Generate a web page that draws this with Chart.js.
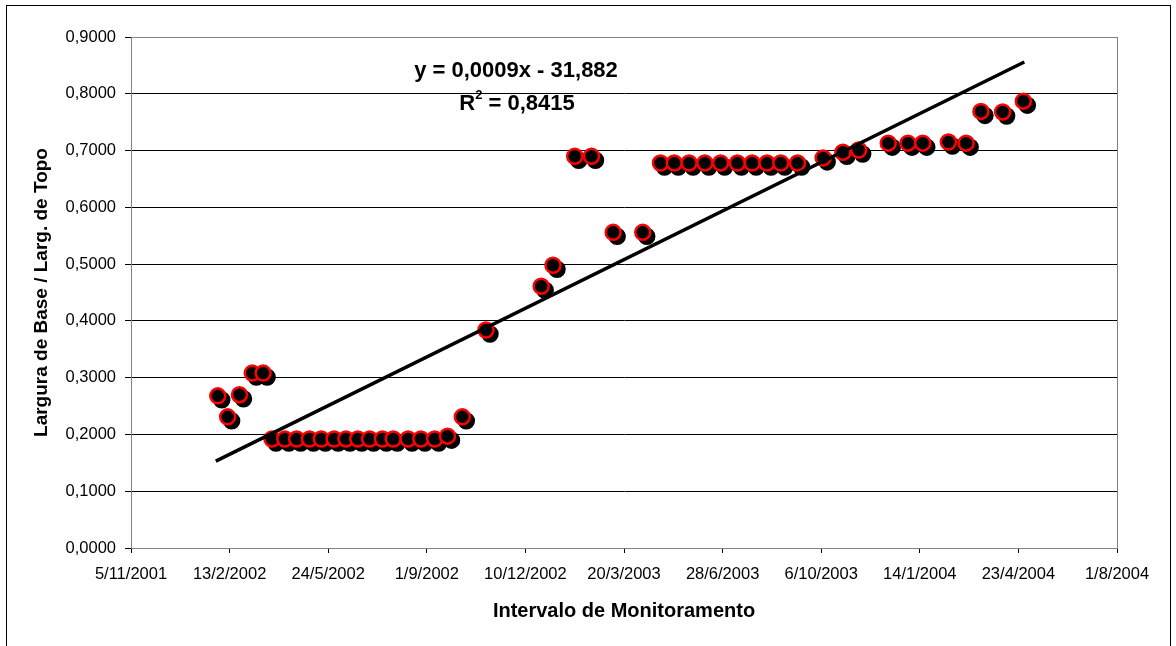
<!DOCTYPE html>
<html>
<head>
    <script src="https://cdn.jsdelivr.net/npm/chart.js@4/dist/chart.umd.min.js"></script>
    <style>
        body { margin: 0; background: #fff; }
        #wrap { width: 1176px; height: 646px; }
    </style>
</head>
<body>
<div id="wrap"><canvas id="chart" width="1176" height="646"></canvas></div>
<script>
    // dates as Excel serial numbers (days), values = base width / top width
    var dias = [37288, 37298, 37310, 37323, 37334,
        37343, 37356, 37368, 37381, 37393, 37406, 37418, 37430, 37442, 37455, 37466,
        37481, 37494, 37508, 37521, 37536, 37560, 37616, 37628, 37650, 37667, 37689, 37719,
        37737, 37751, 37766, 37782, 37798, 37815, 37830, 37845, 37859, 37876,
        37902, 37922, 37938, 37968, 37988, 38003, 38029, 38047, 38062, 38084, 38105];
    var razao = [0.268, 0.231, 0.270, 0.308, 0.308,
        0.192, 0.192, 0.192, 0.192, 0.192, 0.192, 0.192, 0.192, 0.192, 0.192, 0.192,
        0.192, 0.192, 0.192, 0.197, 0.231, 0.384, 0.461, 0.498, 0.690, 0.690, 0.556, 0.556,
        0.678, 0.678, 0.678, 0.678, 0.678, 0.678, 0.678, 0.678, 0.678, 0.678,
        0.687, 0.697, 0.701, 0.713, 0.713, 0.713, 0.715, 0.713, 0.769, 0.768, 0.787];
    // linear trend line ends (y = 0,0009x - 31,882)
    var tendX = [37286, 38106];
    var tendY = [0.153, 0.856];
    var eqTexto = 'y = 0,0009x - 31,882';
    var r2Texto = '0,8415';

    var fonte = '"Liberation Sans", Arial, sans-serif';

    function serialParaData(s) {
        var d = new Date(Math.round((s - 25569) * 86400000));
        return d.getUTCDate() + '/' + (d.getUTCMonth() + 1) + '/' + d.getUTCFullYear();
    }

    var extras = {
        id: 'extras',
        beforeDatasetDraw: function (chart, args) {
            if (args.index === 0) {
                var ctx = chart.ctx;
                ctx.save();
                ctx.shadowColor = '#000';
                ctx.shadowOffsetX = 4;
                ctx.shadowOffsetY = 4;
                ctx.shadowBlur = 0;
            }
        },
        afterDatasetDraw: function (chart, args) {
            if (args.index === 0) chart.ctx.restore();
        },
        beforeDraw: function (chart) {
            var ctx = chart.ctx;
            ctx.save();
            ctx.fillStyle = '#fff';
            ctx.fillRect(0, 0, chart.width, chart.height);
            ctx.strokeStyle = '#000';
            ctx.lineWidth = 1;
            ctx.strokeRect(6.5, 5.5, 1164, 700);
            ctx.restore();
        },
        afterDraw: function (chart) {
            var ctx = chart.ctx, a = chart.chartArea;
            ctx.save();
            ctx.strokeStyle = '#808080';
            ctx.lineWidth = 1;
            ctx.strokeRect(a.left + 0.5, a.top + 0.5, a.right - a.left, a.bottom - a.top);
            ctx.fillStyle = '#000';
            ctx.font = 'bold 22px ' + fonte;
            ctx.textAlign = 'center';
            ctx.textBaseline = 'middle';
            ctx.fillText(eqTexto, 516, 71);
            var parte1 = 'R', parte2 = ' = ' + r2Texto;
            var w1 = ctx.measureText(parte1).width, w2 = ctx.measureText(parte2).width;
            ctx.font = 'bold 13px ' + fonte;
            var ws = ctx.measureText('2').width;
            var x0 = 517 - (w1 + ws + w2) / 2;
            ctx.textAlign = 'left';
            ctx.font = 'bold 22px ' + fonte;
            ctx.fillText(parte1, x0, 104);
            ctx.font = 'bold 13px ' + fonte;
            ctx.fillText('2', x0 + w1, 95);
            ctx.font = 'bold 22px ' + fonte;
            ctx.fillText(parte2, x0 + w1 + ws, 104);
            ctx.restore();
        }
    };

    new Chart('chart', {
        type: 'scatter',
        data: {
            datasets: [{
                data: dias.map(function (d, i) { return { x: d, y: razao[i] }; }),
                backgroundColor: '#000',
                borderColor: '#ff0000',
                borderWidth: 2.5,
                pointRadius: 7.5,
                pointHoverRadius: 7.5,
                order: 1
            }, {
                type: 'line',
                data: tendX.map(function (d, i) { return { x: d, y: tendY[i] }; }),
                borderColor: '#000',
                borderWidth: 3.5,
                pointRadius: 0,
                fill: false,
                order: 0
            }]
        },
        options: {
            responsive: false,
            animation: false,
            layout: { padding: { left: 30, top: 37, right: 59, bottom: 0 } },
            plugins: { legend: { display: false }, tooltip: { enabled: false } },
            scales: {
                x: {
                    type: 'linear',
                    min: 37200,
                    max: 38200,
                    afterFit: function (s) { s.height = 98; },
                    ticks: {
                        stepSize: 100,
                        color: '#000',
                        font: { family: fonte, size: 16.5 },
                        maxRotation: 0,
                        padding: 12,
                        callback: function (v) { return serialParaData(v); }
                    },
                    grid: { drawOnChartArea: false, drawTicks: true, tickLength: 5, color: '#000' },
                    border: { display: true, color: '#000' },
                    title: {
                        display: true,
                        text: 'Intervalo de Monitoramento',
                        color: '#000',
                        font: { family: fonte, size: 20, weight: 'bold' },
                        padding: { top: 0, bottom: 23 }
                    }
                },
                y: {
                    min: 0,
                    max: 0.9,
                    afterFit: function (s) { s.width = 101; },
                    ticks: {
                        stepSize: 0.1,
                        color: '#000',
                        font: { family: fonte, size: 16.5 },
                        padding: 9,
                        callback: function (v) { return v.toFixed(4).replace('.', ','); }
                    },
                    grid: { color: '#000', drawTicks: true, tickLength: 6 },
                    border: { display: true, color: '#000' },
                    title: {
                        display: true,
                        text: 'Largura de Base / Larg. de Topo',
                        color: '#000',
                        font: { family: fonte, size: 19, weight: 'bold' },
                        padding: { top: 0, bottom: 0 }
                    }
                }
            }
        },
        plugins: [extras]
    });
</script>
</body>
</html>
